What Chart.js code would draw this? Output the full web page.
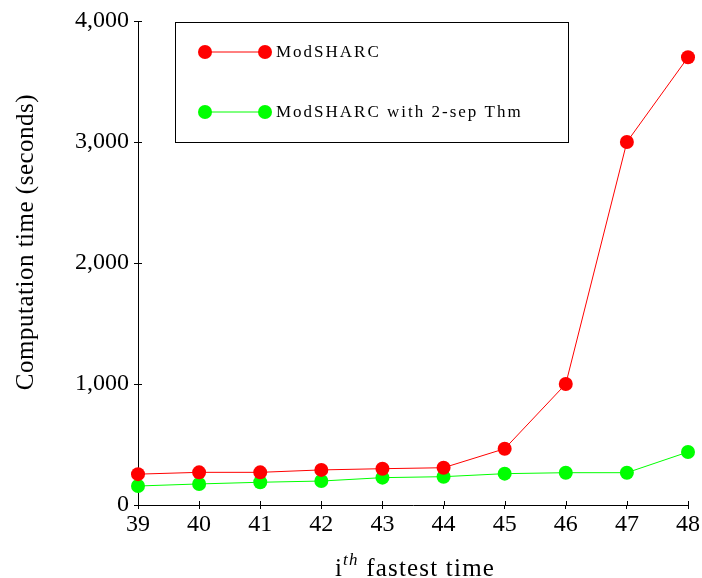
<!DOCTYPE html>
<html>
<head>
<meta charset="utf-8">
<script src="https://cdn.jsdelivr.net/npm/chart.js@4"></script>
<style>
  html, body { margin: 0; padding: 0; background: #fff; }
  #wrap { width: 702px; height: 578px; position: relative; }
</style>
</head>
<body>
<div id="wrap"><canvas id="timeChart"></canvas></div>
<script>
  // data
  const ranks = ['39', '40', '41', '42', '43', '44', '45', '46', '47', '48'];
  const modSharc = [255, 270, 270, 290, 300, 308, 465, 1000, 3000, 3700];
  const modSharc2sep = [157, 174, 188, 198, 226, 234, 259, 267, 267, 438];
  const yTicks = [0, 1000, 2000, 3000, 4000];

  const serif = '"Liberation Serif", "DejaVu Serif", serif';

  // legend box with a marker at each end of the line, like pgfplots
  const boxLegend = {
    id: 'boxLegend',
    afterDraw(chart) {
      const ctx = chart.ctx;
      ctx.save();
      ctx.strokeStyle = '#000';
      ctx.lineWidth = 1;
      ctx.strokeRect(175.5, 22.5, 393, 120);
      chart.data.datasets.forEach((ds, i) => {
        const y = 52 + i * 60;
        ctx.strokeStyle = ds.borderColor;
        ctx.lineWidth = 1;
        ctx.beginPath();
        ctx.moveTo(205, y);
        ctx.lineTo(265, y);
        ctx.stroke();
        ctx.fillStyle = ds.backgroundColor;
        [205, 265].forEach(x => {
          ctx.beginPath();
          ctx.arc(x, y, 7, 0, Math.PI * 2);
          ctx.fill();
        });
        ctx.fillStyle = '#000';
        ctx.font = '17px ' + serif;
        ctx.letterSpacing = '2px';
        ctx.textBaseline = 'middle';
        ctx.fillText(ds.label, 276, y + 1);
      });
      ctx.restore();
    }
  };

  // pgfplots-style ticks poke a little into the plot too
  const innerTicks = {
    id: 'innerTicks',
    afterDatasetsDraw(chart) {
      const { ctx, chartArea: a, scales } = chart;
      ctx.save();
      ctx.strokeStyle = '#000';
      ctx.lineWidth = 1;
      ctx.beginPath();
      scales.x.ticks.forEach((t, i) => {
        const x = Math.round(scales.x.getPixelForTick(i)) + 0.5;
        ctx.moveTo(x, a.bottom);
        ctx.lineTo(x, a.bottom - 4);
      });
      scales.y.ticks.forEach((t, i) => {
        const y = Math.round(scales.y.getPixelForTick(i)) + 0.5;
        ctx.moveTo(a.left, y);
        ctx.lineTo(a.left + 4, y);
      });
      ctx.stroke();
      ctx.restore();
    }
  };

  // axis titles (x one has a superscript)
  const axisTitles = {
    id: 'axisTitles',
    afterDraw(chart) {
      const ctx = chart.ctx;
      ctx.save();
      ctx.fillStyle = '#000';
      ctx.textBaseline = 'alphabetic';
      ctx.letterSpacing = '1.2px';
      const big = '25px ' + serif;
      const sup = 'italic 17px ' + serif;
      ctx.font = big;
      const w1 = ctx.measureText('i').width;
      const w3 = ctx.measureText(' fastest time').width;
      ctx.font = sup;
      const w2 = ctx.measureText('th').width;
      let x = 415 - (w1 + w2 + w3) / 2;
      const base = 576;
      ctx.font = big;
      ctx.fillText('i', x, base); x += w1;
      ctx.font = sup;
      ctx.fillText('th', x, base - 11); x += w2;
      ctx.font = big;
      ctx.fillText(' fastest time', x, base);

      ctx.letterSpacing = '0.5px';
      ctx.translate(26, 242);
      ctx.rotate(-Math.PI / 2);
      ctx.textAlign = 'center';
      ctx.textBaseline = 'middle';
      ctx.font = big;
      ctx.fillText('Computation time (seconds)', 0, 0);
      ctx.restore();
    }
  };

  const ctx = document.getElementById('timeChart').getContext('2d');
  new Chart(ctx, {
    type: 'line',
    data: {
      labels: ranks,
      datasets: [{
        label: 'ModSHARC',
        data: modSharc,
        borderColor: '#ff0000',
        backgroundColor: '#ff0000',
        borderWidth: 1,
        pointRadius: 7,
        pointBorderWidth: 0,
        tension: 0
      }, {
        label: 'ModSHARC with 2-sep Thm',
        data: modSharc2sep,
        borderColor: '#00ff00',
        backgroundColor: '#00ff00',
        borderWidth: 1,
        pointRadius: 7,
        pointBorderWidth: 0,
        tension: 0
      }]
    },
    options: {
      responsive: true,
      maintainAspectRatio: false,
      animation: false,
      layout: { padding: { top: 21, right: 14, left: 0, bottom: 0 } },
      scales: {
        x: {
          offset: false,
          grid: { drawOnChartArea: false, color: '#000', tickLength: 4 },
          border: { color: '#000', width: 1 },
          ticks: { color: '#000', font: { family: serif, size: 24 }, padding: 1, maxRotation: 0 },
          afterFit: (scale) => { scale.height = 73; }
        },
        y: {
          min: 0,
          max: 4000,
          afterBuildTicks: (scale) => { scale.ticks = yTicks.map(v => ({ value: v })); },
          grid: { drawOnChartArea: false, color: '#000', tickLength: 4 },
          border: { color: '#000', width: 1 },
          ticks: {
            color: '#000',
            font: { family: serif, size: 24 },
            padding: 5,
            callback: (v) => v.toLocaleString('en-US')
          },
          afterFit: (scale) => { scale.width = 138; }
        }
      },
      plugins: {
        legend: { display: false },
        tooltip: { enabled: false }
      }
    },
    plugins: [boxLegend, innerTicks, axisTitles]
  });
</script>
</body>
</html>
